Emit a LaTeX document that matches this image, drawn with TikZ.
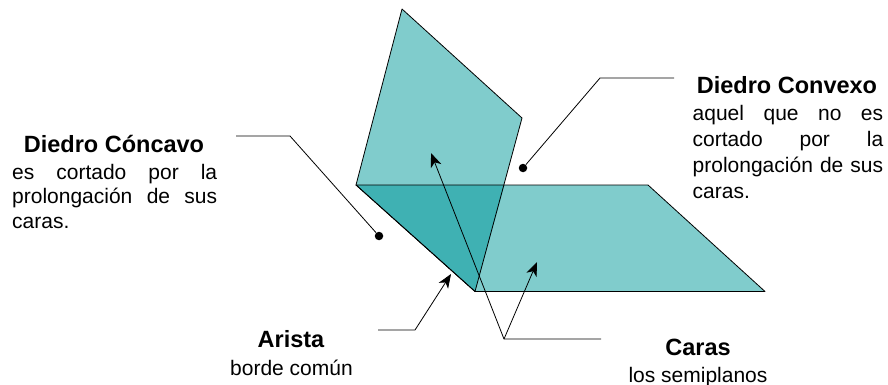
\documentclass[tikz,border=0pt]{standalone}
\usepackage{fontspec}
\setmainfont{Liberation Sans}
\usetikzlibrary{arrows.meta}
\definecolor{light teal}{HTML}{80CCCC}
\definecolor{dark teal}{HTML}{3FB1B3}
\begin{document}
\begin{tikzpicture}[x=1pt,y=-1pt,>={Stealth[length=14pt,width=11pt,inset=4pt]},
    plane/.style={draw=black,line width=0.8pt,line join=round,fill=light teal},
    lead/.style={draw=black,line width=0.8pt},
    dot/.style={circle,fill=black,inner sep=0pt,minimum size=8.5pt},
    title text/.style={font=\fontsize{23.5}{26}\selectfont\bfseries,inner sep=0pt,anchor=base},
    body text/.style={font=\fontsize{21}{24.5}\selectfont,inner sep=0pt,anchor=north west,align=justify},
    label text/.style={font=\fontsize{21}{24}\selectfont,inner sep=0pt,anchor=base}]
            \useasboundingbox (0,0) rectangle (888,385);

            \coordinate (1) at (356,185);
            \coordinate (2) at (402,9);
            \coordinate (3) at (522,118);
            \coordinate (4) at (475,291.5);
            \coordinate (5) at (648,185);
            \coordinate (6) at (765,291.5);
            \coordinate (7) at (504.5,185);

            \fill[plane,draw=none] (1) -- (2) -- (3) -- (4) -- cycle;
            \fill[plane,draw=none] (1) -- (5) -- (6) -- (4) -- cycle;
            \fill[dark teal] (1) -- (7) -- (4) -- cycle;
            \draw[plane,fill=none] (1) -- (2) -- (3) -- (4) -- cycle;
            \draw[plane,fill=none] (1) -- (5) -- (6) -- (4) -- cycle;

            \node (concavo) [title text] at (114,152){Diedro Cóncavo};
            \node (concavo text) [body text,text width=205pt] at (12,163.8){es cortado por la\linebreak prolongación de sus\linebreak caras.};
            \node (convexo) [title text] at (787,94){Diedro Convexo};
            \node (convexo text) [body text,text width=190.5pt,font=\fontsize{21}{26}\selectfont] at (692.5,104.8){aquel que no es\linebreak cortado por la\linebreak prolongación de sus\linebreak caras.};
            \node (arista) [title text] at (291,347){Arista};
            \node (borde) [label text] at (291.5,375){borde común};
            \node (caras) [title text] at (698,355){Caras};
            \node (semiplanos) [label text] at (698,382){los semiplanos};

            \node (dot a) [dot] at (379,236){};
            \node (dot b) [dot] at (523,168){};
            \coordinate (a0) at (236,136);
            \coordinate (a1) at (290,136);
            \coordinate (b0) at (674,78);
            \coordinate (b1) at (600,78);
            \coordinate (c0) at (378,330);
            \coordinate (c1) at (415,330);
            \coordinate (c2) at (451,274);
            \coordinate (d0) at (601,339);
            \coordinate (d1) at (504,339);
            \coordinate (d2) at (431,153);
            \coordinate (d3) at (537,262);

            \draw[lead] (a0) -- (a1) -- (dot a);
            \draw[lead] (b0) -- (b1) -- (dot b);
            \draw[lead,->] (c0) -- (c1) -- (c2);
            \draw[lead,->] (d0) -- (d1) -- (d2);
            \draw[lead,->] (d1) -- (d3);
        \end{tikzpicture}
\end{document}
